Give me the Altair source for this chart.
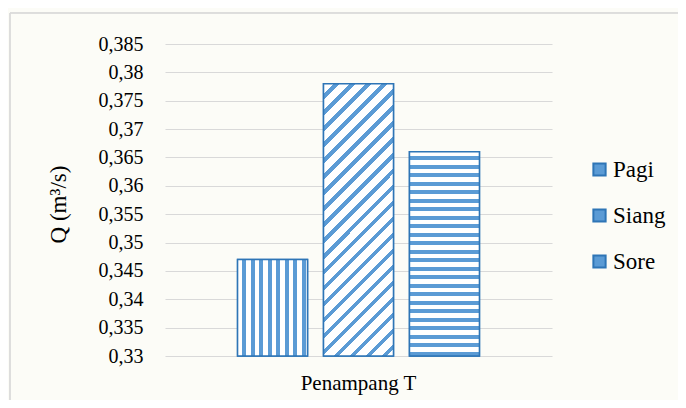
import altair as alt
import pandas as pd

# ---- data ----
group = ["Penampang T", "Penampang T", "Penampang T"]
series = ["Pagi", "Siang", "Sore"]
values = [0.347, 0.378, 0.366]
y_ticks = [0.33, 0.335, 0.34, 0.345, 0.35, 0.355, 0.36, 0.365, 0.37, 0.375, 0.38, 0.385]
y_min, y_max = 0.33, 0.385

df = pd.DataFrame({"grp": group, "waktu": series, "Q": values, "base": [y_min] * 3})

# ---- style ----
W, H = 387, 312
BLUE = "#5b9bd5"
EDGE = "#2e75b6"
WHITE = "#ffffff"
BG = "#fcfcf7"
FONT = "Liberation Serif, Times New Roman, DejaVu Serif, serif"
BAR_W = 70.0


def stripes(n_periods, frac_blue, x1, y1, x2, y2):
    stops = []
    p = 1.0 / n_periods
    for k in range(int(n_periods) + 1):
        a = k * p
        b = a + p * (1 - frac_blue)
        c = a + p
        for off, col in ((a, WHITE), (b, WHITE), (b, BLUE), (c, BLUE)):
            if off <= 1.0:
                stops.append({"offset": round(off, 5), "color": col})
    if stops[-1]["offset"] < 1.0:
        stops.append({"offset": 1.0, "color": stops[-1]["color"]})
    return {"gradient": "linear", "x1": x1, "y1": y1, "x2": x2, "y2": y2, "stops": stops}


def bar_h(v):
    return (v - y_min) / (y_max - y_min) * H


# vertical stripes (Pagi)
g_pagi = stripes(BAR_W / 8.5, 0.47, 0, 0, 1, 0)
# horizontal stripes (Sore)
g_sore = stripes(bar_h(values[2]) / 8.5, 0.47, 0, 0, 0, 1)
# diagonal "/" stripes (Siang)
h_s = bar_h(values[1])
r = BAR_W / h_s
s = (r + 1) / (r * r + 1)
diag_len = (BAR_W + h_s) / 2 ** 0.5
g_siang = stripes(diag_len / 11.3, 0.34, 0, 0, round(r * s, 5), round(s, 5))

grads = {"Pagi": g_pagi, "Siang": g_siang, "Sore": g_sore}

x_enc = alt.X("grp:N", title=None,
              scale=alt.Scale(paddingInner=0, paddingOuter=0.3),
              axis=alt.Axis(labelAngle=0, labelFontSize=21, labelFont=FONT,
                            labelColor="#000000", ticks=False, domain=False,
                            labelPadding=16, grid=False))
xo_enc = alt.XOffset("waktu:N", sort=series,
                     scale=alt.Scale(domain=series, paddingInner=0.186, paddingOuter=0))
y_enc = alt.Y("Q:Q", title="Q (m³/s)",
              scale=alt.Scale(domain=[y_min, y_max], zero=False, nice=False),
              axis=alt.Axis(values=y_ticks,
                            labelExpr="replace(format(datum.value, '.3~f'), '.', ',')",
                            labelFontSize=20, labelFont=FONT, labelColor="#000000",
                            labelPadding=22, ticks=False, domain=False,
                            gridColor="#d9d9d9", gridWidth=1,
                            titleFont=FONT, titleFontSize=23, titleFontWeight="normal",
                            titleColor="#000000", titleX=-107, titleY=H / 2 + 4,
                            titleAlign="center", titleBaseline="middle", titleAngle=270))
y2_enc = alt.Y2("base:Q")

base = alt.Chart(df).mark_bar(stroke=EDGE, strokeWidth=1.5).encode(
    x=x_enc, xOffset=xo_enc, y=y_enc, y2=y2_enc,
    color=alt.Color("waktu:N", sort=series,
                    scale=alt.Scale(domain=series, range=[BLUE, BLUE, BLUE]),
                    legend=alt.Legend(title=None, orient="none", legendX=423, legendY=114,
                                      symbolType="square", symbolSize=150,
                                      symbolStrokeColor=EDGE, symbolStrokeWidth=2,
                                      labelFont=FONT, labelFontSize=23, labelColor="#000000",
                                      labelOffset=2, rowPadding=22)),
)

overlays = []
for name in series:
    overlays.append(
        alt.Chart(df).transform_filter(alt.datum.waktu == name)
        .mark_bar(fill=grads[name], stroke=EDGE, strokeWidth=1.5)
        .encode(x=x_enc, xOffset=xo_enc, y=y_enc, y2=y2_enc)
    )

frame = alt.Chart(df).mark_rect(fill="transparent", stroke="#d9d9d9", strokeWidth=1).encode(
    x=alt.value(-155), x2=alt.value(W + 200), y=alt.value(-31), y2=alt.value(H + 80)
)

chart = alt.layer(frame, base, *overlays).properties(
    width=W, height=H,
    padding={"left": 157, "top": 36, "right": 126, "bottom": 44},
    autosize=alt.AutoSizeParams(type="none"),
    background=BG,
).configure(font=FONT).configure_view(stroke=None)

chart.save("out.html", embed_options={"renderer": "svg", "actions": False})
